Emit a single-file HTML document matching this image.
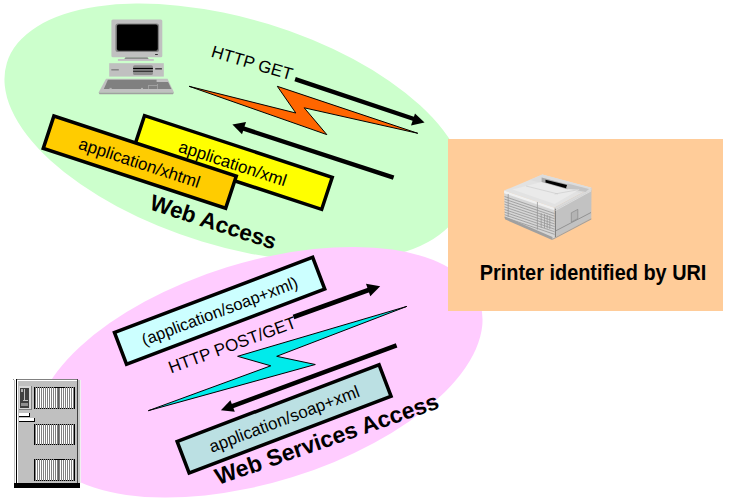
<!DOCTYPE html>
<html><head><meta charset="utf-8">
<style>
html,body{margin:0;padding:0;background:#fff;width:731px;height:504px;overflow:hidden}
svg{display:block}
text{font-family:"Liberation Sans",sans-serif}
</style></head><body>
<svg width="731" height="504" viewBox="0 0 731 504">
<!-- green ellipse -->
<ellipse cx="235.13" cy="132.77" rx="238.72" ry="113.65" transform="rotate(17.01 235.13 132.77)" fill="#CCFFCC"/>
<!-- pink ellipse -->
<ellipse cx="259.40" cy="372.26" rx="231.12" ry="109.93" transform="rotate(-17.23 259.40 372.26)" fill="#FFCCFF"/>
<!-- orange rect -->
<rect x="448" y="139" width="275" height="172" fill="#FFCC99"/>
<text transform="translate(479.8 280) scale(0.93 1)" font-size="21.4" font-weight="bold" fill="#000">Printer identified by URI</text>

<!-- computer -->
<g id="computer">
  <rect x="111.4" y="19.5" width="50.9" height="37.7" rx="1.5" fill="#C0C0C0"/>
  <rect x="115.4" y="23.4" width="43.7" height="28.5" rx="2.5" fill="#808080"/>
  <rect x="116.9" y="24.6" width="40.9" height="26.1" rx="2" fill="#000"/>
  <rect x="155.1" y="54" width="2.7" height="0.9" fill="#202020"/>
  <polygon points="125.5,57.2 147.5,57.2 148.7,58.9 124.3,58.9" fill="#8C8C8C"/>
  <rect x="117.9" y="59.1" width="35.9" height="1.7" fill="#C4B8C4"/>
  <rect x="109.2" y="63.2" width="54.6" height="13.4" fill="#C0C0C0"/>
  <rect x="111.3" y="69.1" width="7.5" height="1.4" fill="#808080"/>
  <rect x="133.1" y="65.2" width="19.8" height="9.9" rx="1.5" fill="#8C8C8C"/>
  <rect x="133.1" y="67.9" width="19.8" height="1.2" fill="#000"/>
  <rect x="133.1" y="70.7" width="19.8" height="1.2" fill="#303030"/>
  <rect x="155.2" y="68.1" width="6.7" height="1.4" fill="#404040"/>
  <polygon points="106,78.7 167.5,78.7 174,92.4 98.6,92.4" fill="#C0C0C0"/>
  <polygon points="98.6,92.4 174,92.4 173,94.2 99.5,94.2" fill="#A0A0A0"/>
  <polygon points="107.9,79.8 156.6,79.8 156.6,82 168.1,82 171.4,88.9 103.8,88.9" fill="#808080"/>
  <rect x="109.5" y="87.9" width="2.2" height="1" fill="#B8B8B8"/>
  <rect x="141" y="87.9" width="2" height="1" fill="#B8B8B8"/>
  <rect x="148.2" y="85.2" width="0.8" height="3.7" fill="#A8A8A8"/>
  <rect x="148.2" y="85.2" width="9" height="0.8" fill="#A8A8A8"/>
  <rect x="157" y="84" width="0.8" height="4.9" fill="#A8A8A8"/>
</g>

<!-- printer -->
<g id="printer">
  <polygon points="504.1,190.6 554.3,207.7 555.4,237.5 552.5,238.8 504.9,218" fill="#D6D6D6"/>
  <polygon points="554.3,207.7 591.5,187.8 591.3,218.3 552.5,238.8 555.4,237.5" fill="#C2C2C2"/>
  <polygon points="504.1,190.6 542.4,174.4 591.5,187.8 554.3,207.7" fill="#E2E2E2"/>
  <polygon points="504.1,190.6 554.3,207.7 554.3,210.3 504.1,193.2" fill="#F0F0F0"/>
  <polygon points="554.3,207.7 591.5,187.8 591.5,190.3 554.3,210.3" fill="#DADADA"/>
  <polygon points="542.4,174.4 591.5,187.8 580,193 530,180" fill="#DCDCDC"/>
  <polygon points="541.6,177.5 568,184.5 567.6,189.5 541.6,183.5" fill="#A8A8A8"/>
  <polygon points="545.5,179.7 567,184.9 566,188.2 545.5,182.6" fill="#000"/>
  <polygon points="567.5,183.5 589,189 585.5,192 566.5,188.5" fill="#C4C4C4"/>
  <polygon points="512.5,189.5 541.6,182 567.6,189.5 579.5,189.5 554.6,204 " fill="#EAEAEA"/>
  <line x1="526" y1="186" x2="558" y2="194" stroke="#C8C8C8" stroke-width="0.6"/>
  <line x1="554.6" y1="194" x2="578" y2="189.8" stroke="#C8C8C8" stroke-width="0.6"/>
  <g stroke="#959595" stroke-width="0.8">
    <line x1="504.5" y1="196.50" x2="554.5" y2="213.53"/>
    <line x1="504.5" y1="199.10" x2="554.5" y2="216.13"/>
    <line x1="504.5" y1="201.70" x2="554.5" y2="218.73"/>
    <line x1="504.5" y1="204.30" x2="554.5" y2="221.33"/>
    <line x1="504.5" y1="206.90" x2="554.5" y2="223.93"/>
    <line x1="504.5" y1="209.50" x2="554.5" y2="226.53"/>
    <line x1="504.5" y1="212.10" x2="554.5" y2="229.13"/>
    <line x1="504.5" y1="214.70" x2="554.5" y2="231.73"/>
    <line x1="504.5" y1="217.30" x2="554.5" y2="234.33"/>
  </g>
  <g stroke="#989898" stroke-width="0.8">
    <line x1="508.2" y1="194" x2="508.2" y2="217"/>
    <line x1="537.4" y1="202" x2="537.4" y2="229.6"/>
    <line x1="541.2" y1="213.2" x2="541.2" y2="227.6"/>
    <line x1="544.5" y1="214" x2="544.5" y2="228"/>
    <line x1="547.2" y1="215" x2="547.2" y2="228.5"/>
    <line x1="549.8" y1="216" x2="549.8" y2="229"/>
  </g>
  <line x1="555.4" y1="208.7" x2="555.4" y2="237" stroke="#707070" stroke-width="0.9"/>
  <line x1="555.4" y1="231" x2="591" y2="212.5" stroke="#8C8C8C" stroke-width="0.9"/>
  <line x1="555.4" y1="210.5" x2="591" y2="191" stroke="#E8E8E8" stroke-width="0.7"/>
  <polygon points="571.3,212.8 577.8,209.4 577.8,218.6 571.3,222" fill="#B4B4B4" stroke="#808080" stroke-width="0.6"/>
  <polygon points="504.9,216.5 552.5,237 552.5,238.8 552.2,240 504.9,219.3" fill="#A0A0A0"/>
  <polygon points="552.5,238.8 591.3,218.3 591.3,219.6 552.2,240" fill="#A0A0A0"/>
</g>

<!-- server -->
<defs>
  <pattern id="v1" x="0" y="387" width="2" height="22" patternUnits="userSpaceOnUse">
    <rect x="0" y="0" width="1" height="22" fill="#FFFFFF"/>
    <rect x="1" y="0" width="1" height="22" fill="#808080"/>
    <rect x="0" y="0" width="1" height="1" fill="#000"/>
    <rect x="0" y="21" width="1" height="1" fill="#000"/>
  </pattern>
  <pattern id="v2" x="0" y="424" width="2" height="21" patternUnits="userSpaceOnUse">
    <rect x="0" y="0" width="1" height="21" fill="#FFFFFF"/>
    <rect x="1" y="0" width="1" height="21" fill="#808080"/>
    <rect x="0" y="0" width="1" height="1" fill="#000"/>
    <rect x="0" y="20" width="1" height="1" fill="#000"/>
  </pattern>
  <pattern id="v3" x="0" y="459" width="2" height="22" patternUnits="userSpaceOnUse">
    <rect x="0" y="0" width="1" height="22" fill="#FFFFFF"/>
    <rect x="1" y="0" width="1" height="22" fill="#808080"/>
    <rect x="0" y="0" width="1" height="1" fill="#000"/>
    <rect x="0" y="21" width="1" height="1" fill="#000"/>
  </pattern>
</defs>
<g id="server" shape-rendering="crispEdges">
  <rect x="14" y="380" width="1" height="103" fill="#C0C0C0"/>
  <rect x="15" y="380" width="1" height="103" fill="#FFFFFF"/>
  <rect x="16" y="379" width="62" height="104" fill="#C0C0C0"/>
  <rect x="13" y="379" width="1" height="1" fill="#909090"/>
  <rect x="16" y="379" width="61" height="1" fill="#808080"/>
  <rect x="17" y="380" width="60" height="1" fill="#FFFFFF"/>
  <rect x="16" y="379" width="1" height="104" fill="#000"/>
  <rect x="17" y="380" width="1" height="103" fill="#FFFFFF"/>
  <rect x="77" y="379" width="1" height="104" fill="#404040"/>
  <rect x="78" y="380" width="2" height="103" fill="#C8C8C8"/>
  <rect x="80" y="380" width="1" height="103" fill="#F0F0F0"/>
  <rect x="14" y="483" width="66" height="5" fill="#000"/>
  <rect x="19" y="386" width="13" height="24" fill="#D8D8D8"/>
  <rect x="31" y="386" width="1" height="24" fill="#808080"/>
  <rect x="19" y="409" width="13" height="1" fill="#808080"/>
  <rect x="20" y="388" width="9" height="20" fill="#404040"/>
  <rect x="21" y="389" width="2" height="3" fill="#B0B0B0"/>
  <rect x="24" y="389" width="1" height="11" fill="#C0C0C0"/>
  <rect x="23" y="400" width="5" height="1" fill="#C0C0C0"/>
  <rect x="21" y="403" width="7" height="3" fill="#909090"/>
  <rect x="34" y="387" width="41" height="22" fill="url(#v1)"/>
  <rect x="34" y="387" width="1" height="22" fill="#000"/>
  <rect x="74" y="387" width="1" height="22" fill="#000"/>
  <rect x="55" y="387" width="10" height="1" fill="#000"/>
  <rect x="58" y="388" width="1" height="20" fill="#606060"/>
  <rect x="34" y="424" width="41" height="21" fill="url(#v2)"/>
  <rect x="34" y="424" width="1" height="21" fill="#000"/>
  <rect x="74" y="424" width="1" height="21" fill="#000"/>
  <rect x="58" y="425" width="1" height="19" fill="#606060"/>
  <rect x="34" y="459" width="41" height="22" fill="url(#v3)"/>
  <rect x="34" y="459" width="1" height="22" fill="#000"/>
  <rect x="74" y="459" width="1" height="22" fill="#000"/>
  <rect x="55" y="459" width="10" height="1" fill="#000"/>
  <rect x="58" y="460" width="1" height="20" fill="#606060"/>
  <rect x="19" y="413" width="11" height="4" fill="#FFFFFF"/>
  <rect x="19" y="416" width="11" height="1" fill="#000"/>
  <rect x="29" y="413" width="1" height="4" fill="#000"/>
  <rect x="19" y="418" width="16" height="4" fill="#FFFFFF"/>
  <rect x="19" y="421" width="16" height="1" fill="#000"/>
  <rect x="34" y="418" width="1" height="4" fill="#000"/>
</g>

<!-- top boxes -->
<g transform="translate(233.1 162.5) rotate(18.2)">
  <rect x="-98.8" y="-16.9" width="197.6" height="33.8" fill="#FFFF00" stroke="#000" stroke-width="3.5"/>
  <text x="0" y="6.8" font-size="17" text-anchor="middle">application/xml</text>
</g>
<g transform="translate(139.9 161.8) rotate(18.2)">
  <rect x="-96" y="-16.6" width="192" height="34" fill="#FFCC00" stroke="#000" stroke-width="3.5"/>
  <text x="0" y="6.9" font-size="17" text-anchor="middle">application/xhtml</text>
</g>
<text transform="translate(148.6 209) rotate(18)" font-size="22.5" font-weight="bold">Web Access</text>
<text transform="translate(210.3 56.6) rotate(16.4)" font-size="17">HTTP GET</text>

<!-- top lightning -->
<polygon points="189.1,86.3 295.8,113 277.3,86.3 417.8,133.3 304.2,107.8 326.8,134.6" fill="#FF6600" stroke="#000" stroke-width="1" stroke-linejoin="miter"/>
<!-- top arrows -->
<line x1="295.1" y1="79.1" x2="414" y2="119" stroke="#000" stroke-width="4.3"/>
<polygon points="424.5,122.5 415,113.5 411,125.5" fill="#000"/>
<line x1="243" y1="128.4" x2="393.6" y2="177.7" stroke="#000" stroke-width="4.5"/>
<polygon points="232.4,124.6 246,122 242,134.2" fill="#000"/>

<!-- bottom boxes -->
<g transform="translate(219.6 310.8) rotate(-20.79)">
  <rect x="-106" y="-17" width="212" height="34" fill="#CCFFFF" stroke="#000" stroke-width="3.5"/>
  <text x="0" y="6" font-size="16.5" text-anchor="middle">(application/soap+xml)</text>
</g>
<g transform="translate(284.1 418.9) rotate(-20.8)">
  <rect x="-108" y="-16.9" width="216" height="33.8" fill="#BBE0E3" stroke="#000" stroke-width="3.5"/>
  <text x="0" y="6" font-size="17" text-anchor="middle">application/soap+xml</text>
</g>
<text transform="translate(171 373.6) rotate(-20.2)" font-size="17">HTTP POST/GET</text>
<text transform="translate(218.2 485.1) rotate(-19.2)" font-size="23" font-weight="bold">Web Services Access</text>

<!-- bottom lightning -->
<polygon points="148.3,410.7 270.8,365.8 237.6,356.3 406.8,306.4 276.7,356.3 315.3,364.5" fill="#00EBEB" stroke="#000" stroke-width="1"/>
<!-- bottom arrows -->
<line x1="293.5" y1="317" x2="370" y2="289.5" stroke="#000" stroke-width="4.6"/>
<polygon points="380.2,286.3 366,283.7 370.3,296.2" fill="#000"/>
<line x1="231" y1="406.6" x2="396.6" y2="345.3" stroke="#000" stroke-width="4.6"/>
<polygon points="220.9,410.3 230.4,400.2 234.8,411.8" fill="#000"/>
</svg>
</body></html>
